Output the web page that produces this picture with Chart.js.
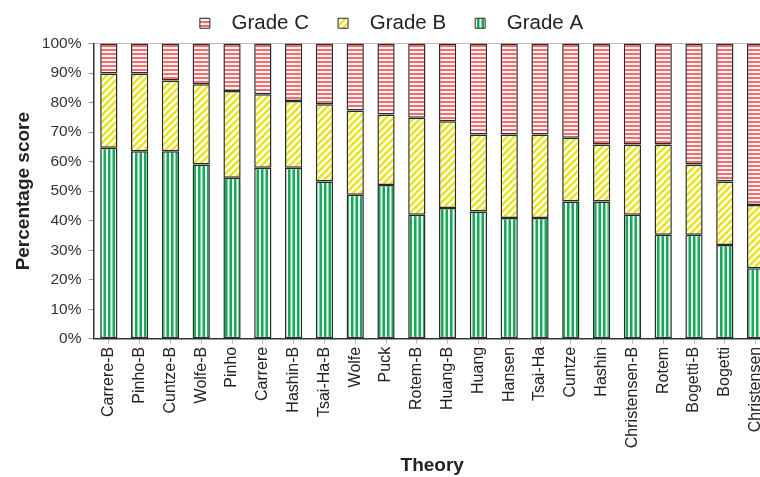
<!DOCTYPE html>
<html>
<head>
<meta charset="utf-8">
<script src="https://cdn.jsdelivr.net/npm/chart.js@4.4.1/dist/chart.umd.min.js"></script>
<style>
  html, body { margin: 0; padding: 0; background: #fff; overflow: hidden; }
  #wrap { width: 760px; height: 477px; overflow: hidden; }
</style>
</head>
<body>
<div id="wrap"><canvas id="chart" width="790" height="477"></canvas></div>
<script>
var categories = ['Carrere-B', 'Pinho-B', 'Cuntze-B', 'Wolfe-B', 'Pinho', 'Carrere', 'Hashin-B', 'Tsai-Ha-B',
	'Wolfe', 'Puck', 'Rotem-B', 'Huang-B', 'Huang', 'Hansen', 'Tsai-Ha', 'Cuntze', 'Hashin',
	'Christensen-B', 'Rotem', 'Bogetti-B', 'Bogetti', 'Christensen'];
var gradeA = [64.7, 63.5, 63.5, 59.0, 54.5, 57.9, 57.9, 53.3, 48.8, 52.1, 42.0, 44.3, 43.1, 40.9, 40.9, 46.5, 46.5, 42.0, 35.2, 35.2, 31.8, 23.9];
var gradeB = [25.1, 26.3, 24.0, 27.2, 29.4, 24.9, 22.6, 26.1, 28.5, 23.9, 32.9, 29.4, 26.1, 28.3, 28.3, 21.6, 19.3, 23.8, 30.6, 23.8, 21.5, 21.4];
var gradeC = [10.2, 10.2, 12.5, 13.8, 16.1, 17.2, 19.5, 20.6, 22.7, 24.0, 25.1, 26.3, 30.8, 30.8, 30.8, 31.9, 34.2, 34.2, 34.2, 41.0, 46.7, 54.7];
var yTicks = [0, 10, 20, 30, 40, 50, 60, 70, 80, 90, 100];

function makePattern(kind)
{
	var c = document.createElement('canvas');
	var g;
	if (kind === 'A') {
		c.width = 9; c.height = 4;
		g = c.getContext('2d');
		g.fillStyle = '#eaf8ef';
		g.fillRect(0, 0, 9, 4);
		g.fillStyle = '#17a85a';
		g.fillRect(0, 0, 2.5, 4);
		g.fillRect(4.5, 0, 2.5, 4);
	} else if (kind === 'B') {
		c.width = 7; c.height = 7;
		g = c.getContext('2d');
		g.fillStyle = '#fefef0';
		g.fillRect(0, 0, 7, 7);
		g.strokeStyle = '#e9e31e';
		g.lineWidth = 2.4;
		g.beginPath();
		g.moveTo(-1, 8); g.lineTo(8, -1);
		g.moveTo(-4.5, 4.5); g.lineTo(4.5, -4.5);
		g.moveTo(2.5, 11.5); g.lineTo(11.5, 2.5);
		g.stroke();
	} else {
		c.width = 4; c.height = 4;
		g = c.getContext('2d');
		g.fillStyle = '#fff3f3';
		g.fillRect(0, 0, 4, 4);
		g.fillStyle = '#f36d6d';
		g.fillRect(0, 1, 4, 2);
	}
	return g.createPattern(c, 'repeat');
}

var font = "'Liberation Sans', Arial, Helvetica, sans-serif";
Chart.defaults.font.family = font;
Chart.defaults.color = '#333';

var barOpts = {
	borderColor: '#2a2a2a',
	borderWidth: 1.5,
	borderSkipped: false,
	categoryPercentage: 1.0,
	barPercentage: 0.56
};

var config = {
	type: 'bar',
	data: {
		labels: categories,
		datasets: [
			Object.assign({ label: 'Grade A', data: gradeA, backgroundColor: makePattern('A') }, barOpts),
			Object.assign({ label: 'Grade B', data: gradeB, backgroundColor: makePattern('B') }, barOpts),
			Object.assign({ label: 'Grade C', data: gradeC, backgroundColor: makePattern('C') }, barOpts)
		]
	},
	options: {
		responsive: false,
		animation: false,
		layout: { padding: { top: 1, right: 19, bottom: 0, left: 12 } },
		plugins: {
			tooltip: { enabled: false },
			legend: {
				position: 'top',
				reverse: true,
				labels: {
					boxWidth: 10,
					boxHeight: 10,
					padding: 12,
					color: '#222',
					font: { size: 20.5 },
					generateLabels: function (chart) {
						var items = Chart.defaults.plugins.legend.labels.generateLabels(chart);
						items.forEach(function (it) {
							// extra gap after the box, and between entries
							it.text = '  ' + it.text + (it.datasetIndex === 0 ? '' : '   ');
							it.lineWidth = 1;
						});
						return items;
					}
				}
			}
		},
		scales: {
			x: {
				stacked: true,
				border: { display: true, color: '#333', width: 1.5 },
				grid: { offset: false, drawOnChartArea: false, drawTicks: true, tickLength: 5, tickColor: '#bbb' },
				ticks: { maxRotation: 90, minRotation: 90, padding: 3, color: '#222', font: { size: 16 } },
				title: { display: true, text: 'Theory', color: '#222', font: { size: 19, weight: 'bold' }, padding: { top: 3, bottom: 0 } }
			},
			y: {
				stacked: true,
				min: 0,
				max: 100,
				afterBuildTicks: function (axis) {
					axis.ticks = yTicks.map(function (v) { return { value: v }; });
				},
				border: { display: true, color: '#333', width: 1.5 },
				grid: {
					drawOnChartArea: true,
					color: function (ctx) { return ctx.tick && ctx.tick.value === 100 ? '#bbb' : 'rgba(0,0,0,0)'; },
					tickColor: '#999',
					tickLength: 5
				},
				ticks: {
					padding: 7,
					color: '#333',
					font: { size: 15.5 },
					callback: function (v) { return v + '%'; }
				},
				title: { display: true, text: 'Percentage score', color: '#222', font: { size: 19, weight: 'bold' }, padding: { top: 0, bottom: 0 } }
			}
		}
	}
};

var myChart = new Chart(document.getElementById('chart'), config);
</script>
</body>
</html>
